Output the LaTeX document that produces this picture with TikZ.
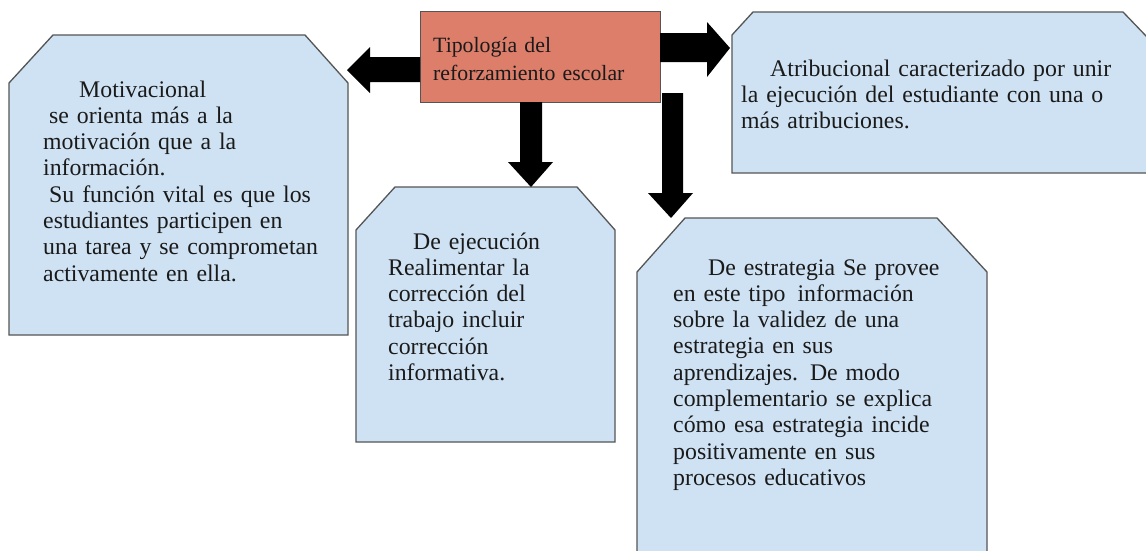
\documentclass[tikz,border=0pt]{standalone}
\usepackage{fontspec}
\setmainfont{Liberation Serif}
\newfontfamily\boxfont{Liberation Serif}
\definecolor{boxblue}{HTML}{CFE2F3}
\definecolor{boxred}{HTML}{DD7E6B}
\definecolor{edge}{HTML}{555555}
\definecolor{ink}{HTML}{1A1A1A}
\begin{document}
\begin{tikzpicture}[x=1pt,y=-1pt,
  card/.style={fill=boxblue,draw=edge,line width=1.3pt,line join=miter},
  blockarrow/.style={fill=black,draw=none},
  txt/.style={anchor=base west,inner sep=0pt,align=left,text=ink,font=\boxfont\fontsize{23.8}{26.3}\selectfont},
  toptxt/.style={anchor=base west,inner sep=0pt,align=left,text=ink,font=\boxfont\fontsize{21.8}{28}\selectfont},
]
\useasboundingbox (0,0) rectangle (1146,550);
\fill[white] (0,0) rectangle (1146,550);
\begin{scope}
\clip (0,0) rectangle (1146,550);
% boxes
\draw[card] (9,335) -- (9,83) -- (53,35) -- (305,35) -- (348,83) -- (348,335) -- cycle;
\draw[card] (356,442) -- (356,230) -- (395,187) -- (577,187) -- (615,230) -- (615,442) -- cycle;
\draw[card] (637,570) -- (637,272) -- (685,218) -- (937,218) -- (987,272) -- (987,570) -- cycle;
\draw[card] (732,173) -- (732,35) -- (753,12) -- (1123,12) -- (1147,37) -- (1147,173) -- cycle;
\node[draw=edge,fill=boxred,line width=1.3pt,minimum width=240pt,minimum height=91pt,anchor=north west,inner sep=0pt] (tipo) at (420,11) {};
% arrows
\fill[blockarrow] (420,57) -- (370,57) -- (370,47) -- (347,70) -- (370,93) -- (370,82) -- (420,82) -- cycle;
\fill[blockarrow] (660,33) -- (707,33) -- (707,22) -- (730,48) -- (707,77) -- (707,62) -- (660,62) -- cycle;
\fill[blockarrow] (520,102) -- (520,162) -- (508,162) -- (531,187) -- (553,162) -- (542,162) -- (542,102) -- cycle;
\fill[blockarrow] (662,93) -- (662,193) -- (648,193) -- (671,218) -- (693,193) -- (683,193) -- (683,93) -- cycle;
\end{scope}
% texts
\node[toptxt,text width=230pt] (tipotxt) at (433,52) {Tipología del\\reforzamiento escolar};
\node[txt,text width=320pt] (motiv) at (43,97) {\hspace*{36pt}Motivacional\\\hspace*{6pt}se orienta más a la\\motivación que a la\\información.\\\hspace*{6pt}Su función vital es que los\\estudiantes participen en\\una tarea y se comprometan\\activamente en ella.};
\node[txt,text width=240pt] (ejec) at (388,249) {\hspace*{25pt}De ejecución\\Realimentar la\\corrección del\\trabajo incluir\\corrección\\informativa.};
\node[txt,text width=320pt] (estr) at (673,275) {\hspace*{35pt}De estrategia Se provee\\en este tipo\hspace*{12pt}información\\sobre la validez de una\\estrategia en sus\\aprendizajes. De modo\\complementario se explica\\cómo esa estrategia incide\\positivamente en sus\\procesos educativos};
\node[txt,text width=400pt] (atrib) at (741,76) {\hspace*{29pt}Atribucional caracterizado por unir\\la ejecución del estudiante con una o\\más atribuciones.};
\end{tikzpicture}
\end{document}
